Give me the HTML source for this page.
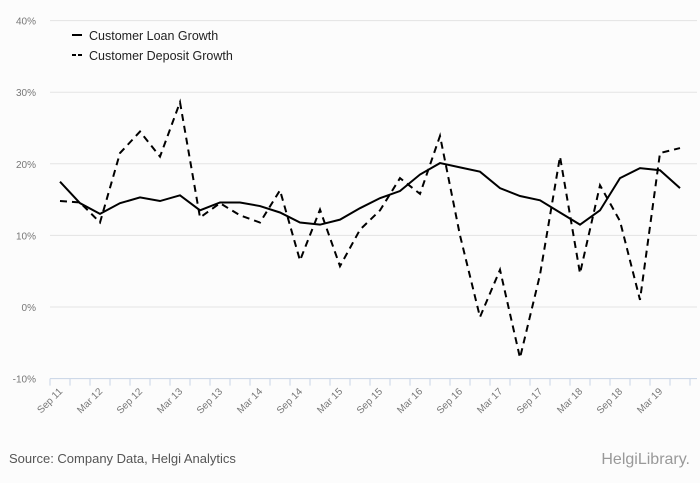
<!DOCTYPE html>
<html><head><meta charset="utf-8">
<style>
body{margin:0;background:#fcfcfc;font-family:"Liberation Sans",sans-serif;}
svg{display:block}
</style></head><body>
<svg width="700" height="483">
<rect width="700" height="483" fill="#fcfcfc"/>
<g id="grid"></g><g id="xax"></g><g id="series"></g>
<g>
<line x1="72" y1="35" x2="82" y2="35" stroke="#000" stroke-width="2"/>
<text x="89" y="40" font-size="12.5" fill="#222">Customer Loan Growth</text>
<line x1="72" y1="55" x2="82" y2="55" stroke="#000" stroke-width="2" stroke-dasharray="4,2"/>
<text x="89" y="60" font-size="12.5" fill="#222">Customer Deposit Growth</text>
</g>
<text x="9" y="463" font-size="13" fill="#555">Source: Company Data, Helgi Analytics</text>
<text x="690" y="464" font-size="16" fill="#999" text-anchor="end">HelgiLibrary.</text>
</svg>
<script>
const categories=["Sep 11","Dec 11","Mar 12","Jun 12","Sep 12","Dec 12","Mar 13","Jun 13","Sep 13","Dec 13","Mar 14","Jun 14","Sep 14","Dec 14","Mar 15","Jun 15","Sep 15","Dec 15","Mar 16","Jun 16","Sep 16","Dec 16","Mar 17","Jun 17","Sep 17","Dec 17","Mar 18","Jun 18","Sep 18","Dec 18","Mar 19","Jun 19"];
const loanGrowth=[17.5,14.5,13,14.5,15.3,14.8,15.6,13.5,14.6,14.6,14.1,13.2,11.8,11.5,12.2,13.8,15.2,16.2,18.5,20.1,19.5,18.9,16.6,15.5,14.9,13.2,11.5,13.5,18,19.4,19.1,16.6];
const depositGrowth=[14.8,14.6,11.8,21.5,24.5,21,28.6,12.5,14.5,12.8,11.8,16.3,6.5,13.6,5.7,10.8,13.5,18,15.8,23.9,10,-1.4,5.2,-7.1,4.5,21,4.7,17,12,1,21.5,22.2];
const yTicks=[-10,0,10,20,30,40];
const ns="http://www.w3.org/2000/svg";
const X0=50,X1=690,step=(X1-X0)/categories.length;
const x=i=>X0+step*(i+0.5);
const y=v=>307-v*7.16;
function mk(t,a,p){const e=document.createElementNS(ns,t);for(const k in a)e.setAttribute(k,a[k]);p.appendChild(e);return e;}
const grid=document.getElementById('grid');
yTicks.forEach(v=>{
 const l=mk('line',{x1:X0,x2:697,y1:y(v),y2:y(v),stroke:v===-10?'#c8d4e6':'#e3e3e3','stroke-width':1},grid);
 
 
 const t=mk('text',{x:36,y:y(v)+4,'font-size':10,fill:'#777','text-anchor':'end'},grid);
 t.textContent=v+'%';
 
 
});
const xa=document.getElementById('xax');
for(let i=0;i<=categories.length;i++){
 const tk=mk('line',{x1:X0+step*i,x2:X0+step*i,y1:y(-10),y2:y(-10)+7,stroke:'#c8d4e6'},xa);
 
 
}
categories.forEach((c,i)=>{
 if(i%2)return;
 const px=x(i)+3,py=392;
 const t=mk('text',{x:px,y:py,'font-size':10,fill:'#777','text-anchor':'end',transform:`rotate(-45 ${px} ${py})`},xa);
 t.textContent=c;
 
 
});
const s=document.getElementById('series');
function line(vals,dash,name){
 const p=mk('polyline',{points:vals.map((v,i)=>x(i)+','+y(v)).join(' '),fill:'none',stroke:'#000','stroke-width':2,'stroke-linejoin':'miter'},s);
 if(dash)p.setAttribute('stroke-dasharray','7,5');
 
 
}
line(depositGrowth,true,'deposit-growth-line');
line(loanGrowth,false,'loan-growth-line');
</script>
</body></html>
